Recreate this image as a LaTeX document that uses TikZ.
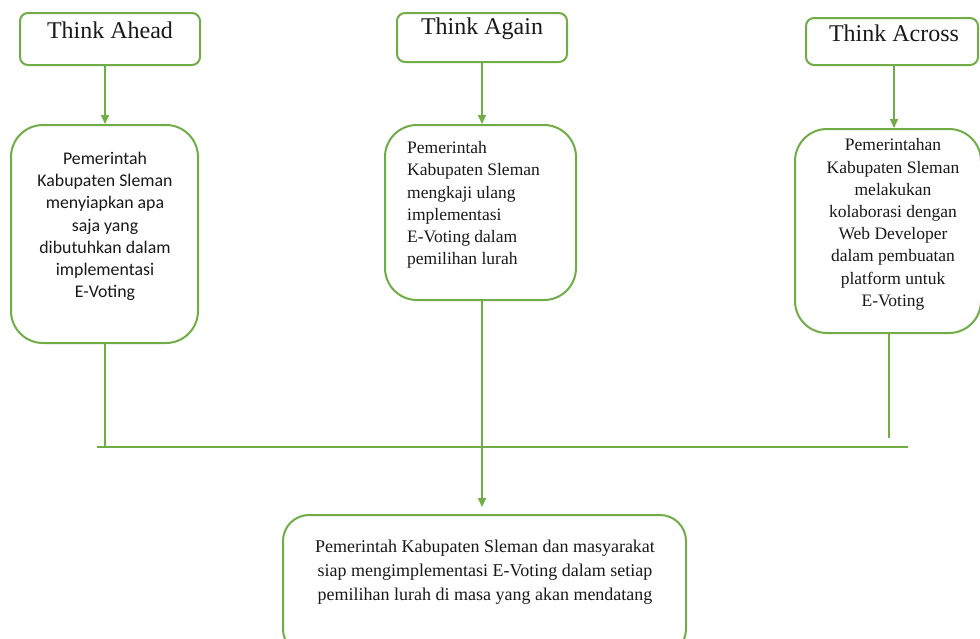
\documentclass[tikz,border=0pt]{standalone}
\usepackage{fontspec}
\setmainfont{Liberation Serif}
\newfontfamily\calfont{Carlito}
\usetikzlibrary{arrows.meta}
\definecolor{ogreen}{RGB}{112,173,71}
\tikzset{
  box/.style={draw=ogreen, line width=2pt, fill=white, inner sep=0pt},
  conn/.style={draw=ogreen, line width=1.5pt},
  arr/.style={conn, -{Triangle[length=9pt,width=8pt]}},
  ttl/.style={font=\fontsize{24}{26}\selectfont, text=black!90, inner sep=0pt},
  body/.style={font=\fontsize{17.5}{22.2}\selectfont, text=black!90, inner sep=0pt},
  sbody/.style={font=\calfont\fontsize{17.8}{22.2}\selectfont, text=black!90, inner sep=0pt}
}
\begin{document}
\begin{tikzpicture}[x=1pt,y=-1pt]
\useasboundingbox (0,0) rectangle (980,638);
% title boxes
\node[box, rounded corners=8pt, minimum width=180pt, minimum height=52pt] (ta) at (110,39) {};
\node[ttl] (tat) at (110,30) {Think Ahead};
\node[box, rounded corners=8pt, minimum width=170pt, minimum height=49pt] (tg) at (482,37.5) {};
\node[ttl] (tgt) at (482,29) {Think Again};
\node[box, rounded corners=8pt, minimum width=172pt, minimum height=47pt] (tc) at (892,41.5) {};
\node[ttl] (tct) at (894,33) {Think Across};
% middle boxes
\node[box, rounded corners=32pt, minimum width=187pt, minimum height=218pt] (b1) at (104.5,234) {};
\node[sbody, align=center] (b1t) at (105,226.5) {Pemerintah\\Kabupaten Sleman\\menyiapkan apa\\saja yang\\dibutuhkan dalam\\implementasi\\E-Voting};
\node[box, rounded corners=32pt, minimum width=191pt, minimum height=175pt] (b2) at (480.5,212.5) {};
\node[body, align=left, anchor=west] (b2t) at (407,205) {Pemerintah\\Kabupaten Sleman\\mengkaji ulang\\implementasi\\E-Voting dalam\\pemilihan lurah};
\node[box, rounded corners=32pt, minimum width=186pt, minimum height=204pt] (b3) at (888,231) {};
\node[body, align=center] (b3t) at (893,224.5) {Pemerintahan\\Kabupaten Sleman\\melakukan\\kolaborasi dengan\\Web Developer\\dalam pembuatan\\platform untuk\\E-Voting};
% bottom box
\node[box, rounded corners=26pt, minimum width=403pt, minimum height=140pt] (bt) at (484.5,585) {};
\node[body, align=center, font=\fontsize{18}{24}\selectfont] (btt) at (485,572) {Pemerintah Kabupaten Sleman dan masyarakat\\siap mengimplementasi E-Voting dalam setiap\\pemilihan lurah di masa yang akan mendatang};
% connectors
\draw[arr] (ta.south -| 105,0) -- (b1.north -| 105,0);
\draw[arr] (tg.south) -- (tg.south |- b2.north);
\draw[arr] (tc.south -| 894,0) -- (b3.north -| 894,0);
\coordinate (hl) at (97,447);
\coordinate (hr) at (908,447);
\draw[conn] (hl) -- (hr);
\draw[conn] (b1.south -| 105,0) -- (105,447);
\coordinate (e3) at (889,438);
\draw[conn] (b3.south -| e3) -- (e3);
\draw[arr] (b2.south -| 482,0) -- (482,507);
\end{tikzpicture}
\end{document}
